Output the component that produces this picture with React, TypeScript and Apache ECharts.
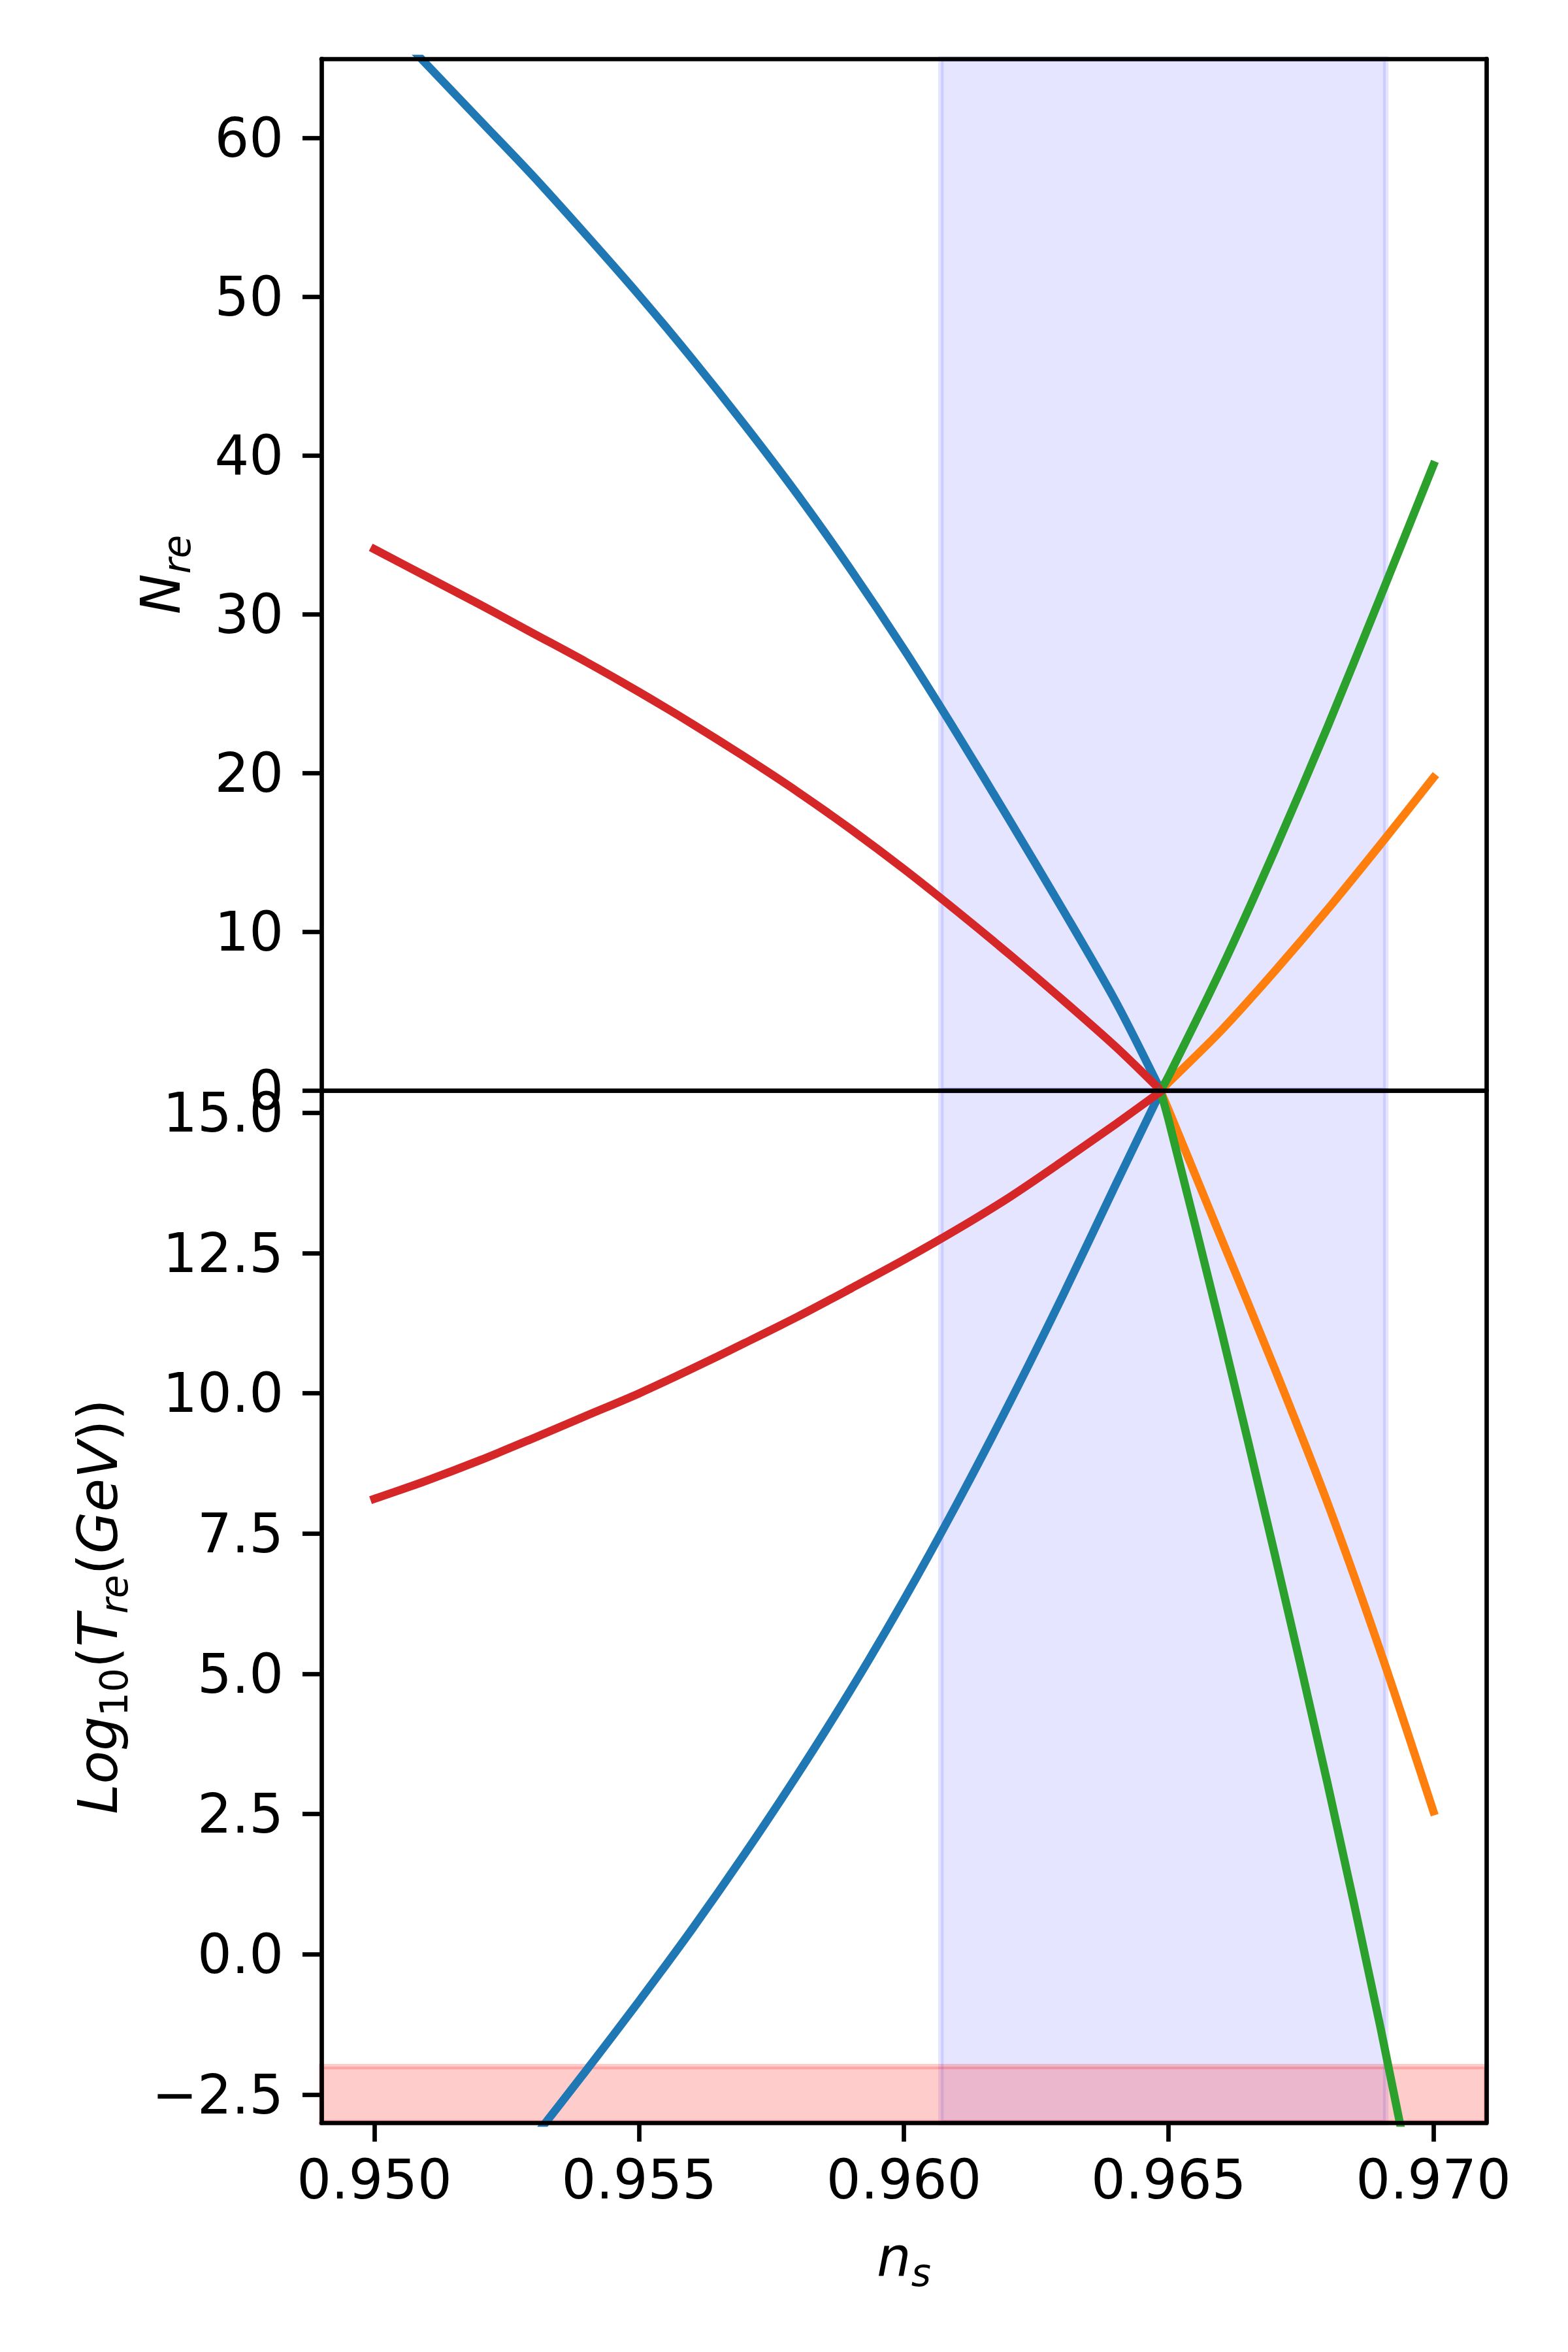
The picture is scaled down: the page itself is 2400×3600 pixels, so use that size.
import React, { useEffect, useRef } from "react";
import * as echarts from "echarts";

// ---- data ----
const nsLeft = [0.95, 0.951, 0.952, 0.953, 0.954, 0.955, 0.956, 0.957, 0.958, 0.959, 0.96, 0.961, 0.962, 0.963, 0.964, 0.96485];
const nsRight = [0.96485, 0.965, 0.966, 0.967, 0.968, 0.969, 0.97];

const nreBlue = [68.1, 64.6, 61.1, 57.6, 53.9, 50.1, 46.1, 41.9, 37.5, 32.8, 27.8, 22.5, 17.0, 11.4, 5.6, 0];
const nreRed = [34.1, 32.35, 30.6, 28.8, 27.0, 25.1, 23.1, 21.0, 18.8, 16.45, 13.95, 11.3, 8.55, 5.7, 2.75, 0];
const nreGreen = [0, 0.9, 7.7, 15.1, 22.9, 31.1, 39.4];
const nreOrange = [0, 0.5, 3.8, 7.5, 11.4, 15.5, 19.7];

const logTBlue = [-6.75, -5.6, -4.45, -3.28, -2.07, -0.83, 0.45, 1.8, 3.22, 4.72, 6.32, 8.03, 9.84, 11.74, 13.72, 15.38];
const logTRed = [8.12, 8.45, 8.81, 9.2, 9.6, 10.0, 10.44, 10.9, 11.37, 11.87, 12.38, 12.92, 13.5, 14.14, 14.8, 15.38];
const logTGreen = [15.38, 14.87, 11.1, 7.15, 3.05, -1.3, -6.0];
const logTOrange = [15.38, 15.05, 12.75, 10.45, 8.05, 5.4, 2.55];

const nsBand = [0.9607, 0.9691];
const tempBand = [-3, -2];

const xTicks = [0.95, 0.955, 0.96, 0.965, 0.97];
const nreTicks = [0, 10, 20, 30, 40, 50, 60];
const logTTicks = [-2.5, 0, 2.5, 5, 7.5, 10, 12.5, 15];

const xRange = [0.949, 0.971];
const nreRange = [0, 65];
const logTRange = [-3, 15.4];

const C_BLUE = "#1f77b4";
const C_ORANGE = "#ff7f0e";
const C_GREEN = "#2ca02c";
const C_RED = "#d62728";

const FONT = "'DejaVu Sans', sans-serif";
const FS = 83;
const SUB = 58;
const SPINE = 6.7;
const LW = 12.5;

const pairs = (xs: number[], ys: number[]) => xs.map((x, i) => [x, ys[i]]);

const richName = {
  i: { fontFamily: FONT, fontStyle: "italic", fontSize: FS, lineHeight: 108, color: "#000" },
  u: { fontFamily: FONT, fontStyle: "normal", fontSize: FS, lineHeight: 108, color: "#000" },
  s: { fontFamily: FONT, fontStyle: "italic", fontSize: SUB, lineHeight: SUB, verticalAlign: "bottom", color: "#000" },
  d: { fontFamily: FONT, fontStyle: "normal", fontSize: SUB, lineHeight: SUB, verticalAlign: "bottom", color: "#000" },
};

const lineStyle = { color: "#000", width: SPINE };

function spineAxis(gridIndex: number, position: string, min: number, max: number) {
  return {
    type: "value",
    gridIndex,
    position,
    min,
    max,
    z: 10,
    axisLine: { show: true, onZero: false, lineStyle },
    axisTick: { show: false },
    axisLabel: { show: false },
    splitLine: { show: false },
  };
}

function tickAxis(gridIndex: number, position: string, min: number, max: number, ticks: number[], fmt: (v: number) => string, margin: number) {
  return {
    type: "value",
    gridIndex,
    position,
    min,
    max,
    z: 10,
    axisLine: { show: true, onZero: false, lineStyle },
    axisTick: { show: true, inside: false, length: 29, lineStyle, customValues: ticks },
    axisLabel: {
      show: true,
      customValues: ticks,
      formatter: (v: number) => fmt(v),
      fontFamily: FONT,
      fontSize: FS,
      color: "#000",
      margin,
      showMinLabel: true,
      showMaxLabel: true,
      hideOverlap: false,
    },
    splitLine: { show: false },
  };
}

function lineSeries(name: string, color: string, xi: number, yi: number, data: number[][]) {
  return {
    name,
    type: "line",
    xAxisIndex: xi,
    yAxisIndex: yi,
    data,
    showSymbol: false,
    symbol: "none",
    clip: true,
    smooth: 0.3,
    z: 3,
    lineStyle: { color, width: LW, cap: "square", join: "round" },
    emphasis: { disabled: true },
  };
}

function bandSeries(xi: number, yi: number, areas: any[]) {
  return {
    type: "line",
    xAxisIndex: xi,
    yAxisIndex: yi,
    data: [],
    silent: true,
    markArea: {
      silent: true,
      label: { show: false },
      emphasis: { disabled: true },
      data: areas,
    },
  };
}

const blueBandStyle = {
  color: "rgba(0,0,255,0.1)",
  borderColor: "rgba(0,0,255,0.1)",
  borderWidth: 8.3,
};
const pinkBandStyle = {
  color: "rgba(255,0,0,0.2)",
  borderColor: "rgba(255,0,0,0.2)",
  borderWidth: 8.3,
};

export default function App() {
  const ref = useRef<HTMLDivElement>(null);
  useEffect(() => {
    document.body.style.margin = "0";
    if (!ref.current) return;
    const chart = echarts.init(ref.current, null, { renderer: "svg" });
    const fmtX = (v: number) => v.toFixed(3);
    const fmtN = (v: number) => String(Math.round(v));
    const fmtT = (v: number) => v.toFixed(1).replace("-", "\u2212");

    const option: any = {
      animation: false,
      backgroundColor: "#fff",
      grid: [
        { left: 492, top: 90, width: 1783, height: 1579, containLabel: false },
        { left: 492, top: 1669, width: 1783, height: 1580, containLabel: false },
      ],
      xAxis: [
        spineAxis(0, "bottom", xRange[0], xRange[1]),
        spineAxis(0, "top", xRange[0], xRange[1]),
        {
          ...tickAxis(1, "bottom", xRange[0], xRange[1], xTicks, fmtX, 46),
          name: "{i|n}{s|s}",
          nameLocation: "middle",
          nameGap: 151,
          nameTextStyle: { rich: richName },
        },
        spineAxis(1, "top", xRange[0], xRange[1]),
      ],
      yAxis: [
        {
          ...tickAxis(0, "left", nreRange[0], nreRange[1], nreTicks, fmtN, 58),
          name: "{i|N}{s|re}",
          nameLocation: "middle",
          nameGap: 192,
          nameTextStyle: { rich: richName },
        },
        spineAxis(0, "right", nreRange[0], nreRange[1]),
        {
          ...tickAxis(1, "left", logTRange[0], logTRange[1], logTTicks, fmtT, 58),
          name: "{i|Log}{d|10}{u|(}{i|T}{s|re}{u|(}{i|GeV}{u|))}",
          nameLocation: "middle",
          nameGap: 288,
          nameTextStyle: { rich: richName },
        },
        spineAxis(1, "right", logTRange[0], logTRange[1]),
      ],
      series: [
        bandSeries(0, 0, [[{ xAxis: nsBand[0], itemStyle: blueBandStyle }, { xAxis: nsBand[1] }]]),
        bandSeries(2, 2, [
          [{ xAxis: nsBand[0], itemStyle: blueBandStyle }, { xAxis: nsBand[1] }],
          [{ yAxis: tempBand[0], itemStyle: pinkBandStyle }, { yAxis: tempBand[1] }],
        ]),
        lineSeries("w0 N", C_BLUE, 0, 0, pairs(nsLeft, nreBlue)),
        lineSeries("w1 N", C_ORANGE, 0, 0, pairs(nsRight, nreOrange)),
        lineSeries("w2/3 N", C_GREEN, 0, 0, pairs(nsRight, nreGreen)),
        lineSeries("w-1/3 N", C_RED, 0, 0, pairs(nsLeft, nreRed)),
        lineSeries("w0 T", C_BLUE, 2, 2, pairs(nsLeft, logTBlue)),
        lineSeries("w1 T", C_ORANGE, 2, 2, pairs(nsRight, logTOrange)),
        lineSeries("w2/3 T", C_GREEN, 2, 2, pairs(nsRight, logTGreen)),
        lineSeries("w-1/3 T", C_RED, 2, 2, pairs(nsLeft, logTRed)),
      ],
    };
    chart.setOption(option);
    return () => chart.dispose();
  }, []);
  return <div ref={ref} style={{ width: 2400, height: 3600 }} />;
}
